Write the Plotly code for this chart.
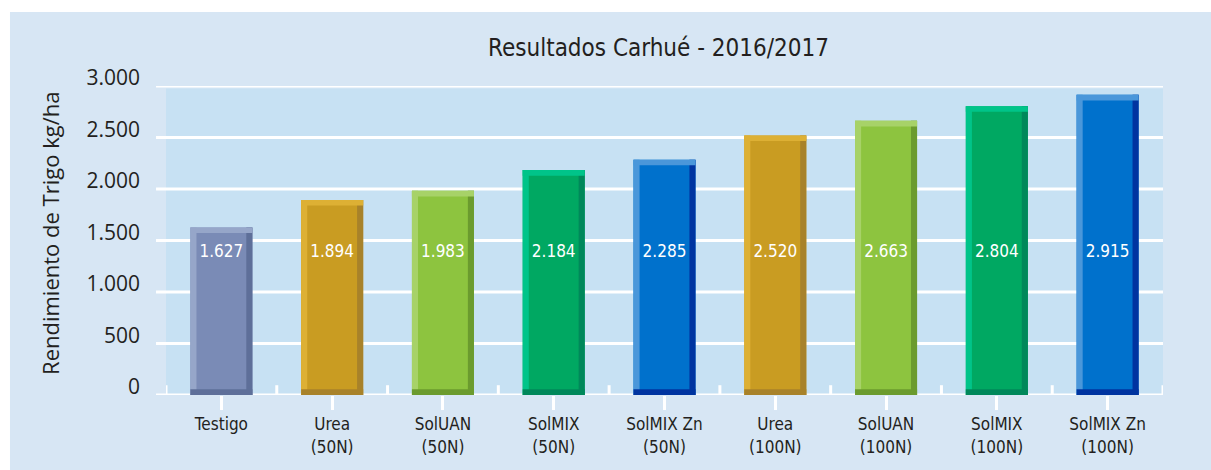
import plotly.graph_objects as go

categories = ["Testigo", "Urea<br>(50N)", "SolUAN<br>(50N)", "SolMIX<br>(50N)", "SolMIX Zn<br>(50N)",
              "Urea<br>(100N)", "SolUAN<br>(100N)", "SolMIX<br>(100N)", "SolMIX Zn<br>(100N)"]
values = [1627, 1894, 1983, 2184, 2285, 2520, 2663, 2804, 2915]
tick_vals = [0, 500, 1000, 1500, 2000, 2500, 3000]
tick_text = ["0", "500", "1.000", "1.500", "2.000", "2.500", "3.000"]

main_colors = ["#7a8bb6", "#c99c22", "#8dc43f", "#00a862", "#0071cc",
               "#c99c22", "#8dc43f", "#00a862", "#0071cc"]
light_colors = ["#96a6c9", "#ddb034", "#a7d268", "#00c489", "#4a97da",
                "#ddb034", "#a7d268", "#00c489", "#4a97da"]
dark_colors = ["#5e6f99", "#a8822a", "#6b9b2e", "#00885a", "#0034a0",
               "#a8822a", "#6b9b2e", "#00885a", "#0034a0"]

x = list(range(len(categories)))
bw = 0.56
edge = 0.055
cap = 55
cond_font = "DejaVu Sans Condensed, Roboto"

fig = go.Figure()
fig.add_trace(go.Bar(x=x, y=values, width=bw, marker=dict(color=main_colors, line=dict(width=0)),
                     hoverinfo="skip", showlegend=False))
fig.add_trace(go.Bar(x=x, y=values, width=edge, offset=-bw / 2,
                     marker=dict(color=light_colors, line=dict(width=0)), hoverinfo="skip", showlegend=False))
fig.add_trace(go.Bar(x=x, y=values, width=edge, offset=bw / 2 - edge,
                     marker=dict(color=dark_colors, line=dict(width=0)), hoverinfo="skip", showlegend=False))
fig.add_trace(go.Bar(x=x, y=[cap] * len(values), base=[v - cap for v in values], width=bw,
                     marker=dict(color=light_colors, line=dict(width=0)), hoverinfo="skip", showlegend=False))
fig.add_trace(go.Bar(x=x, y=[cap] * len(values), base=[0] * len(values), width=bw,
                     marker=dict(color=dark_colors, line=dict(width=0)), hoverinfo="skip", showlegend=False))

labels = ["{:,}".format(v).replace(",", ".") for v in values]
fig.add_trace(go.Scatter(x=x, y=[1380] * len(values), mode="text", text=labels,
                         textfont=dict(family=cond_font, size=17, color="white"),
                         hoverinfo="skip", showlegend=False))

shapes = [
    dict(type="rect", xref="paper", yref="paper", x0=-0.1565, x1=1.05, y0=-0.262, y1=1.2395,
         fillcolor="#d7e6f4", line=dict(width=0), layer="below"),
    dict(type="rect", xref="paper", yref="paper", x0=0, x1=1, y0=0, y1=0.992,
         fillcolor="#c7e1f3", line=dict(width=0), layer="below"),
]
for tv in tick_vals:
    shapes.append(dict(type="line", xref="paper", yref="y", x0=-0.01, x1=1, y0=tv, y1=tv,
                       line=dict(color="white", width=3), layer="below"))
for i in range(len(categories) + 1):
    shapes.append(dict(type="line", xref="x", yref="y", x0=i - 0.5, x1=i - 0.5, y0=0, y1=95,
                       line=dict(color="white", width=3), layer="below"))

fig.update_layout(
    width=1211, height=470,
    paper_bgcolor="white", plot_bgcolor="rgba(0,0,0,0)",
    margin=dict(l=166, r=48, t=86, b=75),
    barmode="overlay",
    shapes=shapes,
    title=dict(text="Resultados Carhué - 2016/2017", x=0.494, xref="paper", xanchor="center",
               y=0.898, yref="container", yanchor="middle",
               font=dict(family=cond_font, size=24, color="#231f20")),
    xaxis=dict(range=[-0.5, 8.5], tickvals=x, ticktext=categories, showgrid=False, zeroline=False,
               ticks="outside", tickson="boundaries", ticklen=14, tickwidth=3, tickcolor="white",
               tickfont=dict(family=cond_font, size=17, color="#231f20"),
               showline=False),
    yaxis=dict(range=[0, 3000], tickvals=tick_vals, ticktext=tick_text, showgrid=False, zeroline=False,
               ticks="", ticklabelstandoff=25, ticklabelshift=-8,
               tickfont=dict(family="Open Sans, Noto Sans", size=21, color="#231f20")),
    annotations=[dict(text="Rendimiento de Trigo kg/ha", xref="paper", yref="paper", x=-0.1165, y=0.524,
                      textangle=-90, showarrow=False, xanchor="center", yanchor="middle",
                      font=dict(family="Open Sans, Noto Sans", size=22, color="#231f20"))],
)

fig.write_html("out.html")
